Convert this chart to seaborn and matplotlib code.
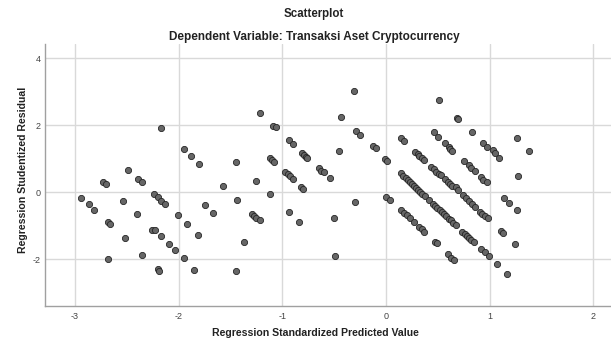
import matplotlib
matplotlib.use("Agg")
import matplotlib.pyplot as plt
import seaborn as sns
import pandas as pd

predicted = [
    -2.17, -1.95, -1.88, -1.80, -1.45, -2.49, -2.73, -2.70, -2.39, -2.35, -1.57,
    -2.94, -2.87, -2.82, -2.54, -2.24, -2.20, -2.17, -2.13, -1.44, -1.75, -1.67,
    -2.40, -2.01, -2.68, -2.66, -1.92, -2.26, -2.23, -1.81, -2.52, -2.17, -2.09,
    -2.04, -2.68, -2.35, -1.95, -2.20, -2.19, -1.85, -1.45,
    -1.37, -1.22, -1.09, -1.06, -0.94, -0.90, -1.12, -1.10, -1.08, -0.81, -0.79,
    -0.77, -0.76, -1.25, -0.97, -0.95, -0.93, -0.90, -0.82, -0.80, -0.65, -0.63,
    -0.60, -0.54, -0.45, -0.43, -0.31, -0.29, -0.25, -0.13, -0.10, -1.12, -1.29,
    -1.27, -1.25, -1.22, -0.94, -0.84, -0.50, -0.30, -0.49,
    0.51, 0.68, 0.69, 0.83, 0.46, 0.50, 0.14, 0.17, 0.57, 0.61, 0.62, 0.64,
    0.94, 0.97, 1.03, 1.05, 1.09, -0.01, 0.01, 0.28, 0.31, 0.32, 0.35, 0.37,
    0.75, 0.80, 0.82, 0.86, 0.92, 0.94, 0.97, 0.43, 0.46, 0.48, 0.51, 0.53,
    0.57, 0.60, 0.62, 0.64, 0.67, 0.69, 0.74, 0.77, 0.80, 0.83, 0.86,
    0.91, 0.93, 0.95, 0.98,
    0.14, 0.16, 0.19, 0.21, 0.23, 0.25, 0.27, 0.29, 0.31, 0.33, 0.35, 0.38, 0.41,
    0.00, 0.04,
    0.45, 0.47, 0.49, 0.52, 0.54, 0.56, 0.58, 0.61, 0.63, 0.65, 0.67,
    0.14, 0.17, 0.20, 0.23, 0.27, 0.32, 0.35, 0.37,
    0.73, 0.76, 0.78, 0.80, 0.82, 0.85, 0.47, 0.49, 0.92, 0.95, 0.99,
    0.60, 0.63, 0.66, 1.07, 1.17, 1.14, 1.19, 1.26, 1.11, 1.13, 1.24,
    1.26, 1.27, 1.38,
]
residual = [
    1.91, 1.29, 1.08, 0.85, 0.90, 0.67, 0.29, 0.23, 0.40, 0.29, 0.17,
    -0.17, -0.36, -0.52, -0.25, -0.04, -0.14, -0.25, -0.35, -0.22, -0.37, -0.62,
    -0.64, -0.68, -0.90, -0.95, -0.94, -1.13, -1.13, -1.27, -1.38, -1.32, -1.55,
    -1.71, -1.98, -1.87, -1.95, -2.29, -2.35, -2.33, -2.35,
    -1.49, 2.37, 1.98, 1.93, 1.56, 1.45, 1.02, 0.96, 0.90, 1.16, 1.11,
    1.06, 1.01, 0.33, 0.59, 0.53, 0.47, 0.39, 0.16, 0.10, 0.73, 0.64,
    0.59, 0.41, 1.22, 2.24, 3.03, 1.82, 1.71, 1.38, 1.32, -0.06, -0.65,
    -0.71, -0.76, -0.83, -0.59, -0.88, -0.77, -0.28, -1.89,
    2.75, 2.22, 2.17, 1.79, 1.79, 1.65, 1.63, 1.52, 1.46, 1.35, 1.28, 1.24,
    1.46, 1.36, 1.25, 1.17, 1.02, 0.99, 0.93, 1.19, 1.13, 1.08, 1.02, 0.96,
    0.93, 0.80, 0.72, 0.63, 0.44, 0.37, 0.30, 0.76, 0.68, 0.61, 0.55, 0.50,
    0.38, 0.31, 0.25, 0.19, 0.14, 0.06, -0.09, -0.18, -0.27, -0.36, -0.44,
    -0.59, -0.66, -0.72, -0.78,
    0.56, 0.49, 0.42, 0.36, 0.30, 0.23, 0.17, 0.11, 0.06, 0.00, -0.06, -0.12, -0.22,
    -0.13, -0.23,
    -0.36, -0.42, -0.47, -0.54, -0.60, -0.66, -0.72, -0.79, -0.84, -0.92, -0.98,
    -0.52, -0.61, -0.68, -0.76, -0.90, -1.04, -1.11, -1.20,
    -1.19, -1.24, -1.30, -1.36, -1.42, -1.49, -1.48, -1.53, -1.70, -1.78, -1.89,
    -1.84, -1.95, -2.01, -2.14, -2.44, -0.18, -0.33, -0.53, -1.15, -1.21, -1.55,
    1.62, 0.49, 1.23,
]
x_ticks = [-3, -2, -1, 0, 1, 2]
y_ticks = [-2, 0, 2, 4]

df = pd.DataFrame({"pred": predicted, "resid": residual})

sns.set_style("white")
plt.rcParams['font.family'] = ['Liberation Sans', 'DejaVu Sans']

fig = plt.figure(figsize=(6.11, 3.43), dpi=100)
ax = fig.add_axes([45/611, 1 - 305.5/343, 1 - 45/611, (305.5 - 44)/343])

sns.scatterplot(data=df, x="pred", y="resid", ax=ax, s=20, color="#666666",
                edgecolor="#262626", linewidth=0.6, zorder=3)

ax.set_xlim(-3.29, 2.17)
ax.set_ylim(-3.38, 4.42)
ax.set_xticks(x_ticks)
ax.set_yticks(y_ticks)
ax.set_xticklabels([str(t) for t in x_ticks])
ax.set_yticklabels([str(t) for t in y_ticks])
ax.grid(True, color="#d9d9d9", linewidth=1.0, zorder=0)
ax.set_axisbelow(True)
for side in ["top", "right"]:
    ax.spines[side].set_visible(False)
for side in ["left", "bottom"]:
    ax.spines[side].set_color("#a0a0a0")
    ax.spines[side].set_linewidth(1.0)
ax.tick_params(axis="x", length=0, labelsize=6.5, colors="#444444", pad=5)
ax.tick_params(axis="y", length=0, labelsize=6.5, colors="#444444", pad=3)

ax.set_xlabel("")
ax.set_ylabel("")
fig.text(315/611, 1 - 333/343, "Regression Standardized Predicted Value",
         ha="center", va="center", fontsize=7.6, fontweight="bold", color="#222222")
fig.text(23/611, 1 - 170/343, "Regression Studentized Residual",
         ha="center", va="center", rotation=90, fontsize=7.6, fontweight="bold", color="#222222")
fig.text(314/611, 1 - 14/343, "Scatterplot",
         ha="center", va="center", fontsize=8.3, fontweight="bold", color="#222222")
fig.text(314/611, 1 - 37/343, "Dependent Variable: Transaksi Aset Cryptocurrency",
         ha="center", va="center", fontsize=8.5, fontweight="bold", color="#222222")

fig.savefig("out.png", dpi=100)
